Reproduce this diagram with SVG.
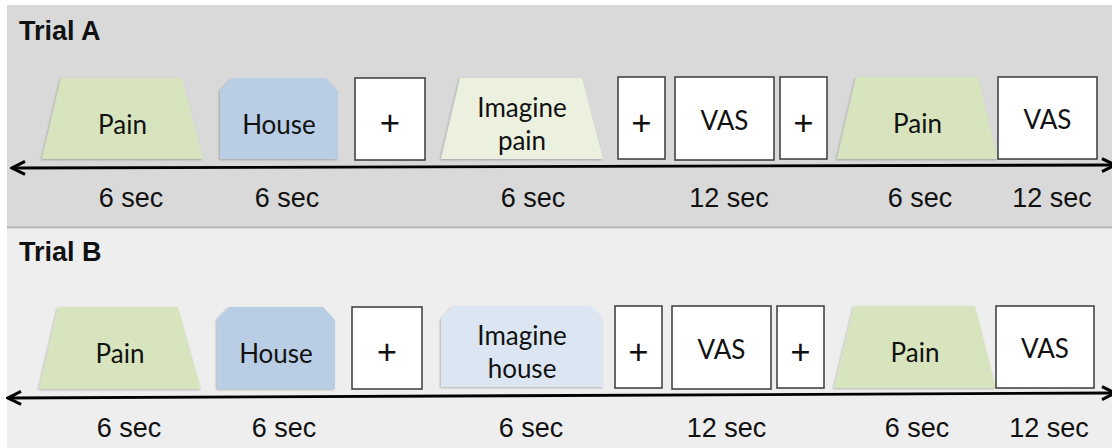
<svg xmlns="http://www.w3.org/2000/svg" width="1112" height="448" viewBox="0 0 1112 448">
<style>
.bg{fill:#ffffff}
.panelA{fill:#d9d9d9}
.panelB{fill:#eeeeee}
.title{font-family:"Liberation Sans",Arial,sans-serif;font-weight:bold;font-size:27px;fill:#111}
.sec{font-family:"Liberation Sans",Arial,sans-serif;font-size:27px;fill:#111;text-anchor:middle}
.lbl{font-family:Lato,"Open Sans",sans-serif;font-size:26px;fill:#111;text-anchor:middle}
.plus{font-family:Lato,"Open Sans",sans-serif;font-size:35px;fill:#111;text-anchor:middle}
.box{fill:#ffffff;stroke:#3a3a3a;stroke-width:1.5}
.pain{fill:#d7e4bd}
.house{fill:#b9cde5}
.ipain{fill:#ebf1de}
.ihouse{fill:#dce6f2}
.axis{stroke:#000;stroke-width:2.8;fill:none}
</style>
<defs>
<filter id="sh" x="-10%" y="-10%" width="120%" height="120%">
<feDropShadow dx="-1" dy="1" stdDeviation="0.8" flood-color="#000" flood-opacity="0.25"/>
</filter>
<marker id="head" viewBox="0 0 18 18" refX="16" refY="9" markerWidth="18" markerHeight="18" markerUnits="userSpaceOnUse" orient="auto-start-reverse">
<path d="M3,2.5 L16,9 L3,15.5" fill="none" stroke="#000" stroke-width="3"/>
</marker>
</defs>
<rect class="bg" x="0" y="0" width="1112" height="448"/>
<rect class="panelA" x="7" y="5" width="1105" height="222"/>
<line x1="7" y1="227.5" x2="1112" y2="227.5" stroke="#b3b3b3" stroke-width="2"/>
<rect class="panelB" x="7" y="229" width="1105" height="219"/>

<g id="trialA">
<text class="title" x="19" y="40">Trial A</text>
</g>
<g id="a-pain1"><polygon class="pain" filter="url(#sh)" points="61,78 182,78 203,159 42,159"/><text class="lbl" x="122.5" y="134">Pain</text></g>
<g id="a-house"><polygon class="house" filter="url(#sh)" points="232,78 326,78 338,91 338,159 220,159 220,90"/><text class="lbl" x="279" y="134">House</text></g>
<g id="a-fix1"><rect class="box" x="355" y="78" width="70" height="82"/><text class="plus" x="390" y="135">+</text></g>
<g id="a-imagine"><polygon class="ipain" filter="url(#sh)" points="460,78 582,78 603,159 441,159"/><text class="lbl" x="522" y="117">Imagine</text><text class="lbl" x="522" y="150">pain</text></g>
<g id="a-fix2"><rect class="box" x="618" y="77" width="47" height="82"/><text class="plus" x="641.5" y="135">+</text></g>
<g id="a-vas1"><rect class="box" x="675" y="77" width="99" height="83"/><text class="lbl" x="724.5" y="130">VAS</text></g>
<g id="a-fix3"><rect class="box" x="780" y="77" width="47" height="82"/><text class="plus" x="803.5" y="135">+</text></g>
<g id="a-pain2"><polygon class="pain" filter="url(#sh)" points="856,77 978,77 998,159 837,159"/><text class="lbl" x="917.5" y="133">Pain</text></g>
<g id="a-vas2"><rect class="box" x="998" y="77" width="99" height="82"/><text class="lbl" x="1047.5" y="129">VAS</text></g>
<g id="a-times">
<text class="sec" x="131" y="207">6 sec</text>
<text class="sec" x="287" y="207">6 sec</text>
<text class="sec" x="533" y="207">6 sec</text>
<text class="sec" x="729" y="207">12 sec</text>
<text class="sec" x="920" y="207">6 sec</text>
<text class="sec" x="1052" y="207">12 sec</text>
</g>

<g id="trialB">
<text class="title" x="19" y="261">Trial B</text>
</g>
<g id="b-pain1"><polygon class="pain" filter="url(#sh)" points="58,307 178,307 201,389 39,389"/><text class="lbl" x="120" y="363">Pain</text></g>
<g id="b-house"><polygon class="house" filter="url(#sh)" points="229,307 323,307 335,320 335,389 217,389 217,319"/><text class="lbl" x="276" y="363">House</text></g>
<g id="b-fix1"><rect class="box" x="352" y="307" width="70" height="82"/><text class="plus" x="387" y="364">+</text></g>
<g id="b-imagine"><polygon class="ihouse" filter="url(#sh)" points="453,306 591,306 603,318 603,387 441,387 441,319"/><text class="lbl" x="522" y="345">Imagine</text><text class="lbl" x="522" y="378">house</text></g>
<g id="b-fix2"><rect class="box" x="615" y="306" width="47" height="82"/><text class="plus" x="638.5" y="364">+</text></g>
<g id="b-vas1"><rect class="box" x="672" y="306" width="99" height="83"/><text class="lbl" x="721.5" y="359">VAS</text></g>
<g id="b-fix3"><rect class="box" x="777" y="306" width="47" height="82"/><text class="plus" x="800.5" y="364">+</text></g>
<g id="b-pain2"><polygon class="pain" filter="url(#sh)" points="854,306 975,306 996,388 834,388"/><text class="lbl" x="915" y="362">Pain</text></g>
<g id="b-vas2"><rect class="box" x="996" y="306" width="98" height="82"/><text class="lbl" x="1045" y="358">VAS</text></g>
<g id="b-times">
<text class="sec" x="129" y="437">6 sec</text>
<text class="sec" x="284" y="437">6 sec</text>
<text class="sec" x="531" y="437">6 sec</text>
<text class="sec" x="726.5" y="437">12 sec</text>
<text class="sec" x="917" y="437">6 sec</text>
<text class="sec" x="1049" y="437">12 sec</text>
</g>

<g id="connectors">
<line class="axis" x1="12" y1="168" x2="1115" y2="165" marker-start="url(#head)" marker-end="url(#head)"/>
<line class="axis" x1="8" y1="398" x2="1115" y2="393" marker-start="url(#head)" marker-end="url(#head)"/>
</g>
</svg>
